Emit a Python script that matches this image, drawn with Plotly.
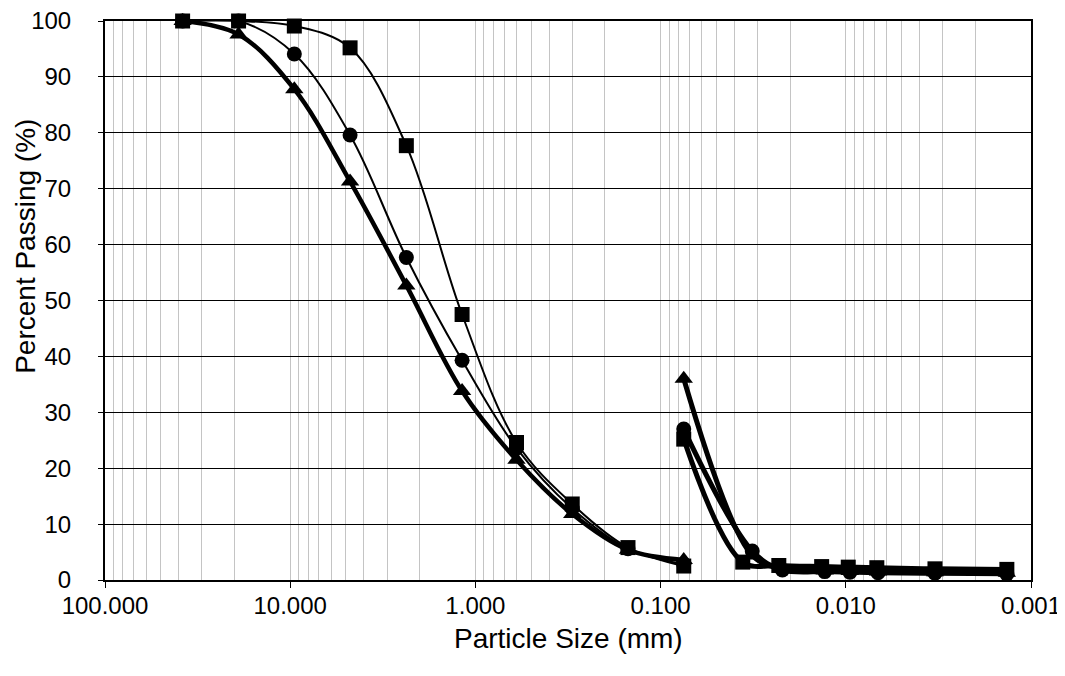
import plotly.graph_objects as go

# Sieve analysis (mm, % passing)
sieve_sizes = [38.1, 19.0, 9.5, 4.75, 2.36, 1.18, 0.6, 0.3, 0.15, 0.075]
sq_sieve = [100, 100, 99.1, 95.2, 77.7, 47.5, 24.6, 13.6, 5.8, 2.5]
ci_sieve = [100, 100, 94.1, 79.6, 57.7, 39.3, 23.6, 12.8, 5.6, 2.8]
tr_sieve = [100, 97.6, 87.8, 71.3, 52.7, 33.8, 21.5, 11.8, 5.4, 3.6]

# Hydrometer analysis (mm, % passing)
sq_hyd_size = [0.075, 0.036, 0.023, 0.0135, 0.0097, 0.0068, 0.0033, 0.00135]
sq_hyd = [25.2, 3.2, 2.6, 2.4, 2.3, 2.2, 2.0, 1.9]
ci_hyd_size = [0.075, 0.032, 0.022, 0.013, 0.0095, 0.0067, 0.0033, 0.00135]
ci_hyd = [27.0, 5.2, 1.8, 1.5, 1.4, 1.3, 1.2, 1.1]
tr_hyd_size = [0.075, 0.032, 0.022, 0.013, 0.0095, 0.0067, 0.0033, 0.00135]
tr_hyd = [36.0, 4.4, 2.0, 1.7, 1.6, 1.5, 1.4, 1.3]

x_tickvals = [100, 10, 1, 0.1, 0.01, 0.001]
x_ticktext = ["100.000", "10.000", "1.000", "0.100", "0.010", "0.001"]
y_tickvals = [0, 10, 20, 30, 40, 50, 60, 70, 80, 90, 100]

x_title = "Particle Size (mm)"
y_title = "Percent Passing (%)"

minor_vals = [m * 10 ** e for e in range(-3, 2) for m in range(2, 10)]

fig = go.Figure()

def add(xs, ys, symbol, size, width):
    fig.add_trace(go.Scatter(
        x=xs, y=ys, mode="lines+markers",
        line=dict(color="black", width=width, shape="spline", smoothing=1.0),
        marker=dict(symbol=symbol, size=size, color="black"),
        showlegend=False, cliponaxis=False))

add(sieve_sizes, tr_sieve, "triangle-up", 16, 4.5)
add(sieve_sizes, ci_sieve, "circle", 15, 2)
add(sieve_sizes, sq_sieve, "square", 15, 2)
add(tr_hyd_size, tr_hyd, "triangle-up", 16, 5)
add(ci_hyd_size, ci_hyd, "circle", 15, 5)
add(sq_hyd_size, sq_hyd, "square", 15, 5)

fig.update_layout(
    width=1057, height=668,
    margin=dict(l=97, r=34, t=13, b=96, autoexpand=False),
    paper_bgcolor="white", plot_bgcolor="white",
    font=dict(family="Liberation Sans, Arial, sans-serif", color="black", size=24),
    annotations=[
        dict(text=y_title, xref="paper", yref="paper", x=0, y=0.596,
             xshift=-79, xanchor="center", yanchor="middle", textangle=-90,
             showarrow=False, font=dict(size=28)),
        dict(text=x_title, xref="paper", yref="paper", x=0.5, y=0,
             yshift=-58, xanchor="center", yanchor="middle",
             showarrow=False, font=dict(size=28)),
    ],
)
fig.update_xaxes(
    type="log", range=[2, -3], automargin=False,
    tickmode="array", tickvals=x_tickvals, ticktext=x_ticktext,
    ticks="outside", ticklen=6, tickcolor="black", tickwidth=1,
    showgrid=True, gridcolor="#c4c4c4", gridwidth=1,
    minor=dict(tickmode="array", tickvals=minor_vals, showgrid=True,
               gridcolor="#c4c4c4", gridwidth=1, ticks=""),
    showline=True, linecolor="black", linewidth=2, mirror=True,
    zeroline=False, ticklabelstandoff=-3, ticklabeloverflow="allow",
    tickfont=dict(size=24),
)
fig.update_yaxes(
    range=[0, 100], tickmode="array", tickvals=y_tickvals, automargin=False,
    ticks="outside", ticklen=5, tickcolor="black",
    showgrid=True, gridcolor="black", gridwidth=1,
    showline=True, linecolor="black", linewidth=2, mirror=True,
    zeroline=False, ticklabelstandoff=22, ticklabeloverflow="allow",
    tickfont=dict(size=24),
)

fig.write_html("out.html")
